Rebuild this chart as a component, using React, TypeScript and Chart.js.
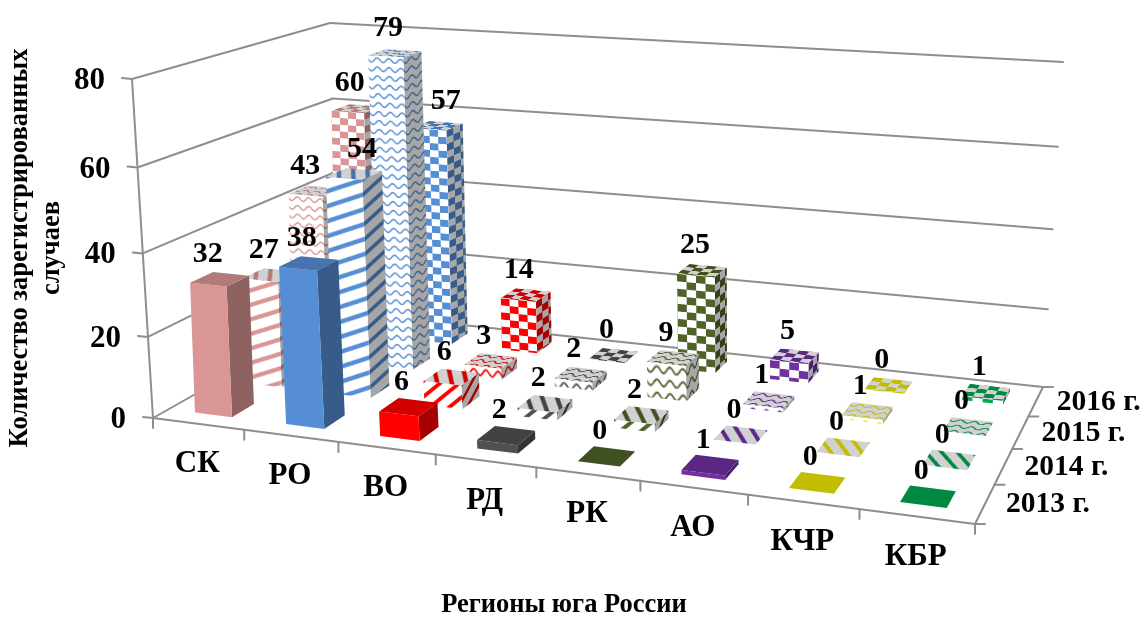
import React, { useEffect, useRef } from "react";
import { Chart, registerables, BarController } from "chart.js";

// Cases per region and year
const regions = ["СК", "РО", "ВО", "РД", "РК", "АО", "КЧР", "КБР"];
const years = ["2013 г.", "2014 г.", "2015 г.", "2016 г."];
const cases2013 = [32, 38, 6, 2, 0, 1, 0, 0];
const cases2014 = [27, 54, 6, 2, 2, 0, 0, 0];
const cases2015 = [43, 79, 3, 2, 9, 1, 1, 0];
const cases2016 = [60, 57, 14, 0, 25, 5, 0, 1];
const regionColors = ["#d99694", "#558ed5", "#ff0000", "#505050", "#4f6228", "#7030a0", "#ece600", "#00a84f"];
const yearSurfaces = ["solid", "stripes", "waves", "checks"];
const yTicks = [0, 20, 40, 60, 80];

// Captions moved sideways so that they clear the neighbouring boxes ("year:region" -> px)
const captionShift: Record<string, number> = { "0:0": -5, "1:1": 15, "2:0": -3, "3:1": 15 };

const SERIF = '"Liberation Serif"';
const GRID = "#8e8e8e";

type P = { x: number; y: number };

// Plane homography from the unit square to a quadrilateral
function quadMap(p0: P, p1: P, p2: P, p3: P) {
  const dx1 = p1.x - p2.x, dx2 = p3.x - p2.x, sx = p0.x - p1.x + p2.x - p3.x;
  const dy1 = p1.y - p2.y, dy2 = p3.y - p2.y, sy = p0.y - p1.y + p2.y - p3.y;
  const den = dx1 * dy2 - dx2 * dy1;
  const g = (sx * dy2 - dx2 * sy) / den;
  const h = (dx1 * sy - sx * dy1) / den;
  const a = p1.x - p0.x + g * p1.x, b = p3.x - p0.x + h * p3.x;
  const d = p1.y - p0.y + g * p1.y, e = p3.y - p0.y + h * p3.y;
  return (u: number, v: number): P => {
    const w = g * u + h * v + 1;
    return { x: (a * u + b * v + p0.x) / w, y: (d * u + e * v + p0.y) / w };
  };
}

// Camera of the scene: floor and ceiling of the plot box
const floorMap = quadMap({ x: 153, y: 418 }, { x: 975, y: 524 }, { x: 1043, y: 387 }, { x: 341, y: 312 });
const ceilMap = quadMap({ x: 132, y: 79 }, { x: 1000, y: 143 }, { x: 1063, y: 62 }, { x: 330, y: 23 });
const HEIGHT_FORESHORTENING = 1.06;
const BOX_LEAN = 0.025;

function project(u: number, v: number, t: number): P {
  const f = floorMap(u, v), c = ceilMap(u, v);
  const k = t / (t + (1 - t) * HEIGHT_FORESHORTENING);
  return { x: f.x + (c.x - f.x) * k, y: f.y + (c.y - f.y) * k };
}

// Boxes stand a little straighter than the walls
function projectBox(u: number, v: number, t: number): P {
  const p = project(u, v, t);
  const f = floorMap(u, v);
  return { x: p.x + (f.y - p.y) * BOX_LEAN, y: p.y };
}

// Scale pixels to normalised scene coordinates
function sceneOf(chart: any) {
  const { x, y, depth } = chart.scales;
  return {
    u: (px: number) => (px - x.left) / x.width,
    t: (px: number) => (y.bottom - px) / y.height,
    v: (px: number) => (px - depth.left) / depth.width,
  };
}

function shade(hex: string, k: number) {
  const n = parseInt(hex.slice(1), 16);
  const c = (s: number) => Math.round(((n >> s) & 255) * k);
  return `rgb(${c(16)},${c(8)},${c(0)})`;
}

// Repeating surface tiles; 40 texture units span one bar face
function makeTile(kind: string, fg: string, bg: string) {
  const tile = document.createElement("canvas");
  const w = 40;
  const h = kind === "waves" ? 10 : 16;
  tile.width = w;
  tile.height = h;
  const g = tile.getContext("2d")!;
  g.fillStyle = bg;
  g.fillRect(0, 0, w, h);
  g.fillStyle = fg;
  g.strokeStyle = fg;
  if (kind === "checks") {
    for (let c = 0; c < 4; c++) {
      for (let r = 0; r < 2; r++) {
        if ((c + r) % 2 === 0) g.fillRect(c * 10, r * 8, 10, 8);
      }
    }
  } else if (kind === "stripes") {
    g.lineWidth = 4.6;
    for (let o = -16; o <= 32; o += 16) {
      g.beginPath();
      g.moveTo(-4, o + 1.6);
      g.lineTo(44, o - 17.6);
      g.stroke();
    }
  } else {
    g.lineWidth = 1.6;
    g.beginPath();
    for (let px = -1; px <= 41; px += 0.5) {
      const py = 5 + 2.4 * Math.sin((px / 40) * Math.PI * 6);
      if (px === -1) g.moveTo(px, py);
      else g.lineTo(px, py);
    }
    g.stroke();
  }
  return tile;
}

const BAR_DEPTH = 0.43;
const SHADE_TOP = 0.82;
const SHADE_SIDE = 0.65;
const SHORT_FACE = 45;

// Bar controller that renders each element as a box inside the perspective scene
class Box3DController extends BarController {
  static id = "box3d";

  draw() {
    const chart: any = this.chart;
    const ctx = chart.ctx;
    const meta: any = this.getMeta();
    const ds: any = this.getDataset();
    const depth = chart.scales.depth;
    const s = sceneOf(chart);
    const zc = depth.getPixelForValue(this.index);
    const band = depth.width / years.length;
    const v0 = s.v(zc - (band * BAR_DEPTH) / 2);
    const v1 = s.v(zc + (band * BAR_DEPTH) / 2);

    meta.data.forEach((bar: any, i: number) => {
      const u0 = s.u(bar.x - bar.width / 2);
      const u1 = s.u(bar.x + bar.width / 2);
      const t0 = s.t(bar.base);
      const t1 = s.t(bar.y);
      const color = regionColors[i];

      const fillFace = (a: P, b: P, c: P, d: P, tone: number, spanU: number, spanV: number, unitV: number) => {
        // a-b is the texture's upper edge, d-c the lower one
        if (ds.surface === "solid") {
          ctx.fillStyle = shade(color, tone);
        } else {
          const pat = ctx.createPattern(makeTile(ds.surface, shade(color, tone), shade("#ffffff", tone)), "repeat");
          const ex = (b.x - a.x) / spanU, ey = (b.y - a.y) / spanU;
          let fx = d.x - a.x, fy = d.y - a.y;
          const len = Math.hypot(fx, fy) || 1;
          const k = spanV > 0 ? 1 / spanV : unitV / len;
          fx *= k;
          fy *= k;
          pat.setTransform(new DOMMatrix([ex, ey, fx, fy, a.x, a.y]));
          ctx.fillStyle = pat;
        }
        ctx.beginPath();
        ctx.moveTo(a.x, a.y);
        ctx.lineTo(b.x, b.y);
        ctx.lineTo(c.x, c.y);
        ctx.lineTo(d.x, d.y);
        ctx.closePath();
        ctx.fill();
      };

      const fl0 = projectBox(u0, v0, t0), fr0 = projectBox(u1, v0, t0), br0 = projectBox(u1, v1, t0);
      const fl1 = projectBox(u0, v0, t1), fr1 = projectBox(u1, v0, t1);
      const br1 = projectBox(u1, v1, t1), bl1 = projectBox(u0, v1, t1);
      const frontWidth = Math.hypot(fr0.x - fl0.x, fr0.y - fl0.y);
      const short = Math.abs(fl0.y - fl1.y) < SHORT_FACE;
      const unitV = (frontWidth / 40) * (short && ds.surface === "waves" ? 1.35 : 1);
      const isStripes = ds.surface === "stripes";
      const spanFront = isStripes && short ? 90 : 40;
      const spanSide = isStripes && short ? 50 : 24;

      if (t1 > t0) {
        fillFace(fr1, br1, br0, fr0, SHADE_SIDE, spanSide, 0, unitV);
        fillFace(fl1, fr1, fr0, fl0, 1, spanFront, 0, unitV);
      }
      if (isStripes) fillFace(br1, bl1, fl1, fr1, SHADE_TOP, 100, 22, unitV);
      else fillFace(bl1, br1, fr1, fl1, SHADE_TOP, 40, 26, unitV);
    });
  }
}

Chart.register(...registerables, Box3DController);

function text(ctx: any, str: string, x: number, y: number, font: string, align: CanvasTextAlign = "center") {
  ctx.font = font;
  ctx.textAlign = align;
  ctx.textBaseline = "middle";
  ctx.fillStyle = "#000000";
  ctx.fillText(str, x, y);
}

function segment(ctx: any, a: P, b: P) {
  ctx.beginPath();
  ctx.moveTo(a.x, a.y);
  ctx.lineTo(b.x, b.y);
  ctx.stroke();
}

// Walls, grid lines, ticks and axis texts behind the boxes
const scenePlugin = {
  id: "scene",
  beforeDatasetsDraw(chart: any) {
    const ctx = chart.ctx;
    const { x, y, depth } = chart.scales;
    const s = sceneOf(chart);
    ctx.save();
    ctx.fillStyle = "#ffffff";
    ctx.fillRect(0, 0, chart.width, chart.height);
    ctx.strokeStyle = GRID;
    ctx.lineWidth = 2;
    ctx.lineCap = "round";

    yTicks.forEach((val) => {
      const t = s.t(y.getPixelForValue(val));
      const front = project(0, 0, t), back = project(0, 1, t), right = project(1, 1, t);
      segment(ctx, front, back);
      segment(ctx, back, right);
      segment(ctx, { x: front.x - 10, y: front.y - 1 }, front);
      text(ctx, String(val), front.x - 27, front.y + 2, `bold 31px ${SERIF}`, "right");
    });
    segment(ctx, project(0, 0, 0), project(0, 0, 1));
    segment(ctx, project(0, 0, 0), project(1, 0, 0));
    segment(ctx, project(1, 0, 0), project(1, 1, 0));

    const uStep = 1 / regions.length;
    for (let i = 0; i <= regions.length; i++) {
      const p = project(i * uStep, 0, 0);
      segment(ctx, p, { x: p.x, y: p.y + 10 });
    }
    const vStep = 1 / years.length;
    for (let j = 0; j <= years.length; j++) {
      const p = project(1, j * vStep, 0);
      segment(ctx, p, { x: p.x + 10, y: p.y });
    }

    regions.forEach((name, i) => {
      const p = project(s.u(x.getPixelForValue(i)), 0, 0);
      text(ctx, name, p.x - 1, p.y + 40, `bold 31px ${SERIF}`);
    });
    years.forEach((name, j) => {
      const p = project(1, s.v(depth.getPixelForValue(j)), 0);
      text(ctx, name, p.x + 21, p.y + 1, `bold 29.5px ${SERIF}`, "left");
    });

    text(ctx, "Регионы юга России", 564, 605, `bold 26.5px ${SERIF}`);
    ctx.save();
    ctx.translate(20, 248);
    ctx.rotate(-Math.PI / 2);
    text(ctx, "Количество зарегистрированных", 0, 0, `bold 26.5px ${SERIF}`);
    text(ctx, "случаев", 0, 32, `bold 26.5px ${SERIF}`);
    ctx.restore();
    ctx.restore();
  },
  // Value captions sit above every box
  afterDatasetsDraw(chart: any) {
    const ctx = chart.ctx;
    const { depth } = chart.scales;
    const s = sceneOf(chart);
    ctx.save();
    chart.data.datasets.forEach((ds: any, j: number) => {
      const v = s.v(depth.getPixelForValue(j));
      chart.getDatasetMeta(j).data.forEach((bar: any, i: number) => {
        const p = projectBox(s.u(bar.x), v, s.t(bar.y));
        const shift = captionShift[`${j}:${i}`] ?? 0;
        text(ctx, String(ds.data[i]), p.x - 7 + shift, p.y - 25, `bold 30px ${SERIF}`);
      });
    });
    ctx.restore();
  },
};

export default function App() {
  const ref = useRef<HTMLCanvasElement>(null);

  useEffect(() => {
    const series = [cases2013, cases2014, cases2015, cases2016];
    const chart = new Chart(ref.current as HTMLCanvasElement, {
      type: "box3d" as any,
      data: {
        labels: regions,
        datasets: series.map((data, j) => ({
          label: years[j],
          data,
          surface: yearSurfaces[j],
          grouped: false,
          categoryPercentage: 1,
          barPercentage: 0.41,
        })) as any,
      },
      options: {
        responsive: false,
        animation: false,
        layout: { padding: 0 },
        plugins: { legend: { display: false }, tooltip: { enabled: false } },
        scales: {
          x: { type: "category", display: false, offset: true, grid: { offset: true } },
          y: { type: "linear", display: false, min: 0, max: 80 },
          depth: { type: "category", axis: "x", display: false, offset: true, labels: years },
        },
      } as any,
      plugins: [scenePlugin],
    });
    return () => chart.destroy();
  }, []);

  return (
    <div style={{ position: "fixed", left: 0, top: 0, width: 1145, height: 617 }}>
      <canvas ref={ref} width={1145} height={617} style={{ display: "block" }} />
    </div>
  );
}
